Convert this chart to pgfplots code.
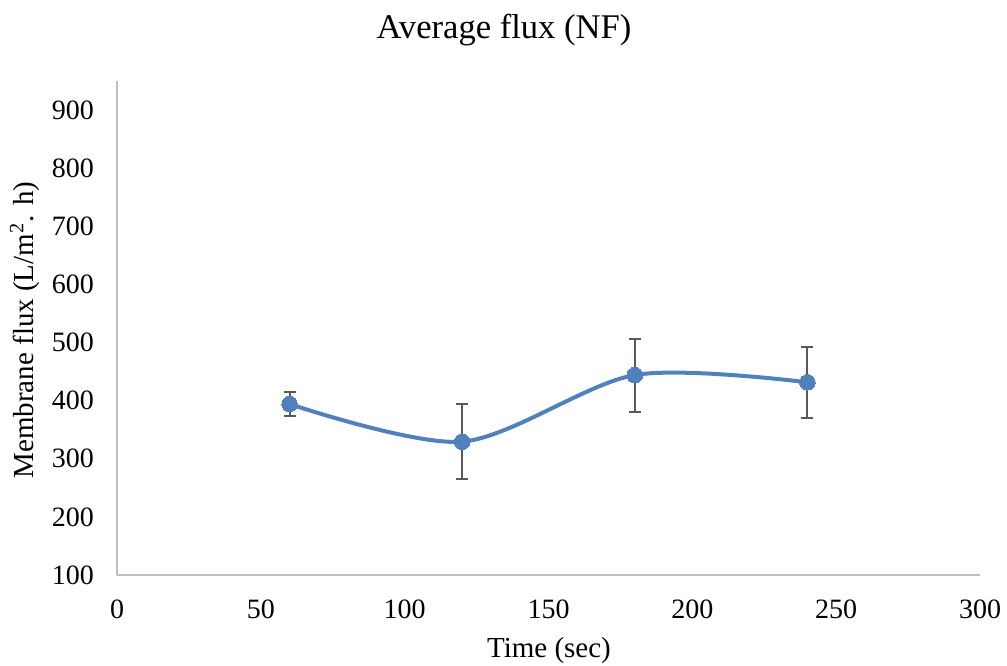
\documentclass[border=0pt]{standalone}
\usepackage{pgfplots}
\pgfplotsset{compat=1.18}
\usepackage{fontspec}
\setmainfont{Liberation Serif}
\definecolor{lineblue}{RGB}{79,129,189}
\definecolor{errgray}{RGB}{89,89,89}
\definecolor{axgray}{RGB}{191,191,191}
\pgfplotstableread{
x y ep em
60 394.2 20.2 20.6
120 329.4 64.8 64.7
180 444.1 62.0 63.1
240 431.6 60.2 62.0
}\fluxdata
\begin{document}
\begin{tikzpicture}
\useasboundingbox (0,0) rectangle (503.5pt,332.5pt);
\begin{axis}[
  at={(58.5pt,45pt)}, anchor=south west,
  scale only axis, width=431.5pt, height=247pt,
  xmin=0, xmax=300, ymin=100, ymax=950,
  xtick={0,50,...,300}, ytick={100,200,...,900},
  axis lines=left, axis line style={draw=axgray, line width=0.6pt, -},
  major tick length=0pt,
  tick label style={font=\fontsize{14}{16}\selectfont},
  /pgf/number format/assume math mode=true,
  xticklabel style={yshift=-9pt},
  yticklabel style={xshift=-8pt},
  clip=false,
]
\addplot[color=lineblue, line width=2pt, smooth, tension=0.5, mark=none,
  error bars/.cd, y dir=both, y explicit,
  error mark options={rotate=90, line width=1pt, color=errgray, mark size=3pt},
  error bar style={line width=1pt, color=errgray}]
  table[x=x, y=y, y error plus=ep, y error minus=em] {\fluxdata};
\addplot[only marks, mark=*, mark size=3.9pt, mark options={fill=lineblue, draw=lineblue, line width=0pt}]
  table[x=x, y=y] {\fluxdata};
\end{axis}
\node at (252pt,317.5pt) {\fontsize{17.3}{20}\selectfont Average flux (NF)};
\node[rotate=90] at (12.5pt,167.5pt) {\fontsize{14.5}{17}\selectfont Membrane flux (L/m\textsuperscript{2}. h)};
\node at (274.5pt,7pt) {\fontsize{14.5}{17}\selectfont Time (sec)};
\end{tikzpicture}
\end{document}
